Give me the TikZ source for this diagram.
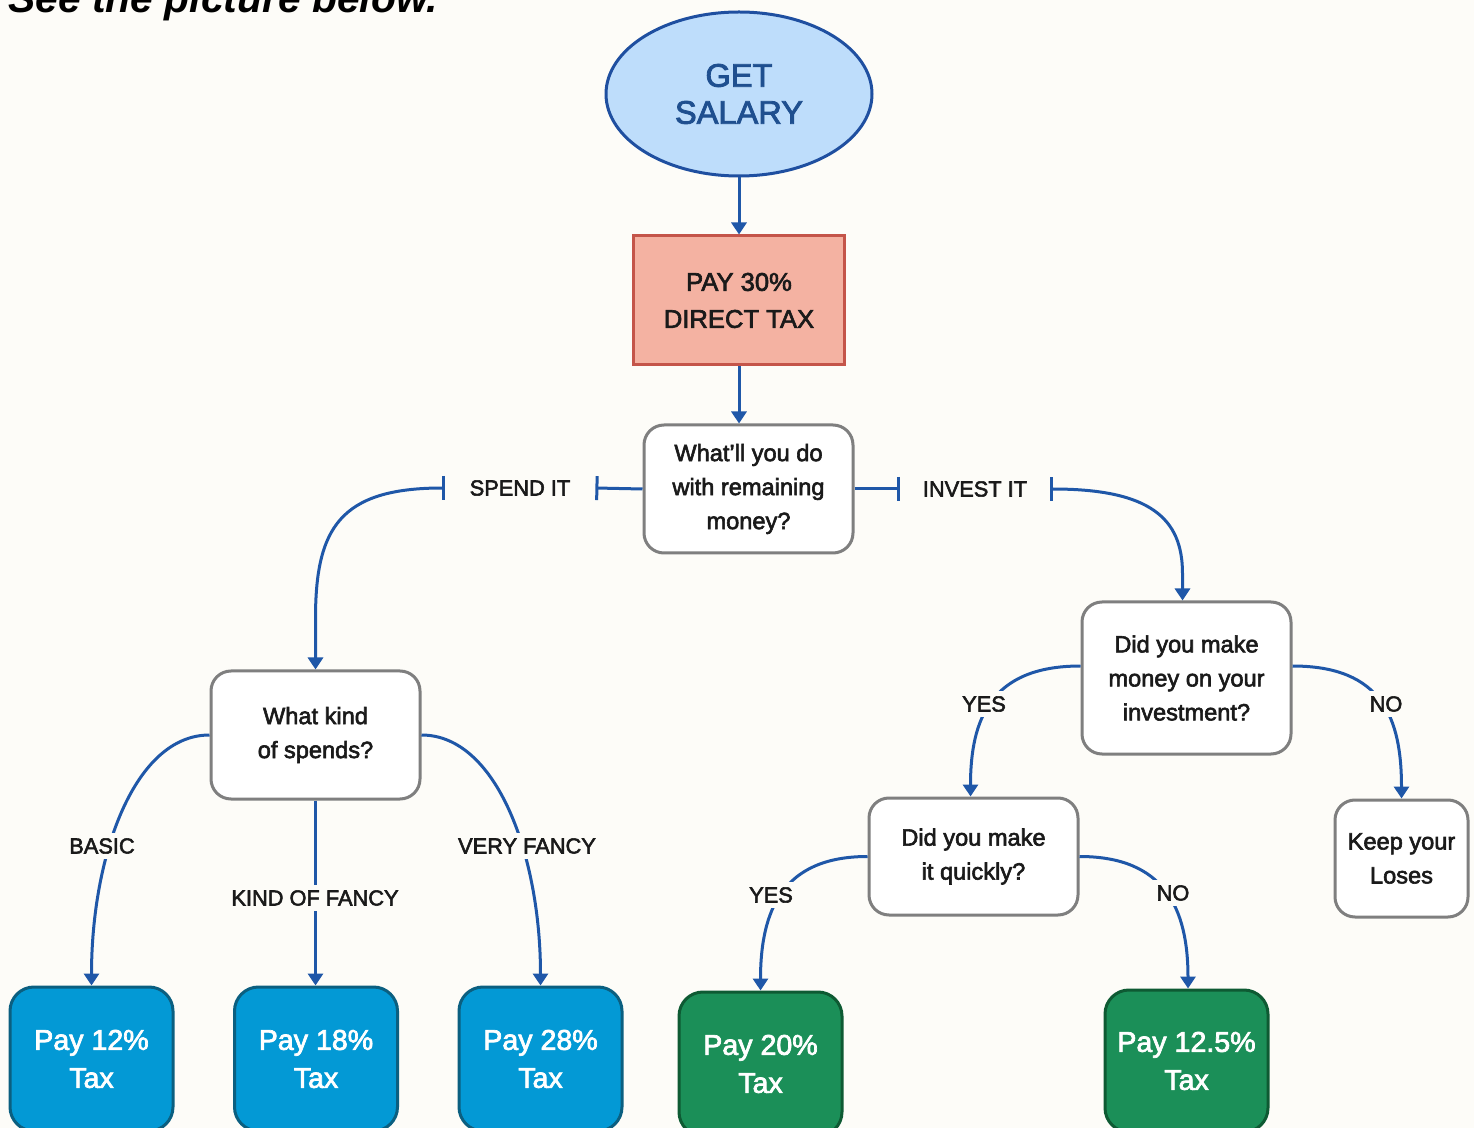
\documentclass[tikz,border=0pt]{standalone}
\usepackage{fontspec}
\setmainfont{Liberation Sans}
\newfontfamily\medfont{Liberation Sans}[FakeBold=2.5]
\usetikzlibrary{arrows.meta,calc,shapes.geometric}
\definecolor{bg}{HTML}{FDFCF8}
\definecolor{conncol}{HTML}{1F57A8}
\definecolor{ellfill}{HTML}{BEDDFB}
\definecolor{elldraw}{HTML}{1F4FA0}
\definecolor{elltext}{HTML}{1F4F8F}
\definecolor{redfill}{HTML}{F4B2A2}
\definecolor{reddraw}{HTML}{C4554A}
\definecolor{qdraw}{HTML}{7F7F7F}
\definecolor{txt}{HTML}{1A1A1A}
\definecolor{bluefill}{HTML}{0399D5}
\definecolor{bluedraw}{HTML}{0B5F80}
\definecolor{greenfill}{HTML}{1B8F58}
\definecolor{greendraw}{HTML}{0E5A33}
\tikzset{
  conn/.style={draw=conncol, line width=1.5pt, -{Triangle[length=6pt,width=7.5pt]}},
  barline/.style={draw=conncol, line width=1.5pt, -{Bar[width=12pt]}},
  qbox/.style={draw=qdraw, line width=1.5pt, fill=white, rounded corners=10pt,
    align=center, text=txt, inner sep=0pt, minimum width=104.5pt,
    font=\medfont\fontsize{11.8}{17}\selectfont},
  paybox/.style={line width=1.5pt, rounded corners=12pt, align=center, text=white,
    inner sep=0pt, minimum width=81.5pt, font=\medfont\fontsize{14.3}{19}\selectfont},
  bluebox/.style={paybox, fill=bluefill, draw=bluedraw},
  greenbox/.style={paybox, fill=greenfill, draw=greendraw},
  lbl/.style={fill=bg, text=txt, inner sep=2.5pt, font=\medfont\fontsize{10.9}{13}\selectfont},
  barlbl/.style={text=txt, inner sep=0pt, minimum width=75pt, minimum height=12pt,
    font=\medfont\fontsize{10.9}{13}\selectfont}
}
\begin{document}
\begin{tikzpicture}[x=0.5pt,y=-0.5pt]
\useasboundingbox (0,0) rectangle (1474,1128);
\clip (0,0) rectangle (1474,1128);
\fill[bg] (0,0) rectangle (1474,1128);

\node[anchor=base west, inner sep=0pt, font=\fontsize{20.4}{22}\selectfont\bfseries\itshape] (title) at (8,13) {See the picture below.};

% nodes
\node[ellipse, draw=elldraw, fill=ellfill, line width=1.5pt, minimum width=133pt, minimum height=82pt,
  inner sep=0pt, align=center, text=elltext, font=\medfont\fontsize{16.3}{18.5}\selectfont] (salary) at (739,94) {GET\\SALARY};
\node[draw=reddraw, fill=redfill, line width=1.5pt, minimum width=105.5pt, minimum height=64.5pt,
  inner sep=0pt, align=center, text=txt, font=\medfont\fontsize{12.8}{18.5}\selectfont] (tax) at (739,300.5) {PAY 30\%\\DIRECT TAX};
\node[qbox, minimum height=64pt] (q1) at (748.5,489) {What’ll you do\\with remaining\\money?};
\node[qbox, minimum height=76pt] (box2) at (1186.5,678) {Did you make\\money on your\\investment?};
\node[qbox, minimum height=58.5pt] (box3) at (973.5,856.5) {Did you make\\it quickly?};
\node[qbox, minimum width=66.5pt, minimum height=58.5pt] (keep) at (1401.5,858.5) {Keep your\\Loses};
\node[qbox, minimum height=64pt] (kind) at (315.5,735) {What kind\\of spends?};

\node[barlbl] (spend) at (520,488) {SPEND IT};
\node[barlbl] (invest) at (975,489) {INVEST IT};

\node[bluebox, minimum height=72pt] (pay12) at (91.5,1059) {Pay 12\%\\Tax};
\node[bluebox, minimum height=72pt] (pay18) at (316,1059) {Pay 18\%\\Tax};
\node[bluebox, minimum height=72pt] (pay28) at (540.5,1059) {Pay 28\%\\Tax};
\node[greenbox, minimum height=72pt] (pay20) at (760.5,1064) {Pay 20\%\\Tax};
\node[greenbox, minimum height=71pt] (pay125) at (1186.5,1061) {Pay 12.5\%\\Tax};

% connectors
\draw[conn] (salary.south) -- (tax.north);
\draw[conn] (tax.south) -- (tax.south |- q1.north);
\draw[barline] (q1.west) -- (spend.east);
\draw[barline] (q1.east) -- (invest.west);
\draw[conn, {Bar[width=12pt]}-{Triangle[length=6pt,width=7.5pt]}]
  (spend.west) .. controls +(-105,0) and +(0,-90) .. ($(kind.north)+(0,-51)$) -- (kind.north);
\draw[conn, {Bar[width=12pt]}-{Triangle[length=6pt,width=7.5pt]}]
  (invest.east) .. controls +(100,0) and +(0,-55) .. ($(box2.north)+(-4,-27)$) -- ($(box2.north)+(-4,0)$);
\draw[conn] ($(box2.west)+(0,-12)$) .. controls +(-90,0) and +(0,-77) .. ($(box3.north)+(-3,0)$);
\draw[conn] ($(box2.east)+(0,-12)$) .. controls +(90,0) and +(0,-80) .. (keep.north);
\draw[conn] (box3.west) .. controls +(-85,0) and +(0,-80) .. (pay20.north);
\draw[conn] (box3.east) .. controls +(85,0) and +(0,-80) .. ($(pay125.north)+(1.5,0)$);
\draw[conn] (kind.west) .. controls +(-75,0) and +(0,-130) .. (pay12.north);
\draw[conn] (kind.east) .. controls +(75,0) and +(0,-130) .. (pay28.north);
\draw[conn] (kind.south) -- (kind.south |- pay18.north);

% labels on connectors
\node[lbl] (yes1) at (984,704) {YES};
\node[lbl] (no1) at (1386,704) {NO};
\node[lbl] (yes2) at (771,895) {YES};
\node[lbl] (no2) at (1173,893) {NO};
\node[lbl] (basic) at (102,846) {BASIC};
\node[lbl] (kof) at (315,898) {KIND OF FANCY};
\node[lbl] (vf) at (527,846) {VERY FANCY};
\end{tikzpicture}
\end{document}
